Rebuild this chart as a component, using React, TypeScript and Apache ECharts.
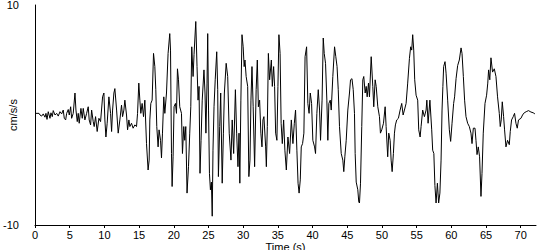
import React, { useEffect, useRef } from "react";
import * as echarts from "echarts";

const times: number[] = [
  0, 0.58, 0.72, 0.96, 1.19, 1.44, 1.58, 1.73, 1.91, 2.16, 2.3, 2.49, 2.63, 2.88, 3.12, 3.35, 3.6, 3.84, 4.07, 4.22,
  4.42, 4.56, 4.79, 4.94, 5.14, 5.28, 5.51, 5.76, 5.9, 6.09, 6.23, 6.37, 6.62, 6.81, 6.95, 7.19, 7.44, 7.67, 7.81, 8.01,
  8.16, 8.39, 8.53, 8.73, 8.96, 9.21, 9.45, 9.74, 9.93, 10.07, 10.22, 10.4, 10.65, 10.89, 11.04, 11.18, 11.37, 11.51, 11.76, 11.99,
  12.23, 12.47, 12.62, 12.81, 12.95, 13.19, 13.34, 13.53, 13.67, 13.91, 14.14, 14.39, 14.63, 14.78, 14.96, 15.11, 15.25, 15.44, 15.64, 15.83,
  16.07, 16.3, 16.45, 16.55, 16.69, 16.88, 17.08, 17.27, 17.41, 17.55, 17.74, 17.88, 18.09, 18.23, 18.37, 18.56, 18.71, 18.95, 19.18, 19.42,
  19.53, 19.67, 19.76, 19.9, 20.04, 20.24, 20.39, 20.53, 20.68, 20.86, 21.11, 21.25, 21.44, 21.58, 21.73, 21.91, 22.12, 22.3, 22.45, 22.59,
  22.78, 22.92, 23.17, 23.35, 23.5, 23.64, 23.78, 23.93, 24.1, 24.35, 24.5, 24.63, 24.79, 24.89, 25.01, 25.14, 25.28, 25.42, 25.54, 25.65,
  25.8, 25.97, 26.19, 26.33, 26.43, 26.62, 26.76, 26.98, 27.15, 27.29, 27.55, 27.77, 27.99, 28.24, 28.42, 28.63, 28.88, 29.06, 29.25, 29.4,
  29.52, 29.67, 29.83, 30.0, 30.14, 30.26, 30.43, 30.65, 30.82, 30.98, 31.12, 31.27, 31.44, 31.65, 31.87, 32.04, 32.19, 32.37, 32.55, 32.71,
  32.85, 32.99, 33.24, 33.34, 33.48, 33.63, 33.81, 34.06, 34.2, 34.39, 34.53, 34.68, 34.86, 35.01, 35.15, 35.32, 35.47, 35.64, 35.83, 36.01,
  36.22, 36.45, 36.69, 36.94, 37.17, 37.37, 37.55, 37.74, 37.91, 38.06, 38.23, 38.37, 38.56, 38.75, 38.92, 39.14, 39.32, 39.5, 39.67, 39.86,
  40.04, 40.29, 40.43, 40.62, 40.82, 41.01, 41.15, 41.37, 41.54, 41.68, 41.87, 42.06, 42.2, 42.35, 42.55, 42.69, 42.92, 43.17, 43.35, 43.53,
  43.7, 43.88, 44.13, 44.36, 44.5, 44.65, 44.85, 45.08, 45.32, 45.47, 45.68, 45.86, 46.04, 46.14, 46.29, 46.52, 46.66, 46.76, 46.91, 47.09,
  47.24, 47.38, 47.58, 47.73, 47.87, 48.06, 48.2, 48.45, 48.68, 48.82, 49.02, 49.17, 49.4, 49.64, 49.78, 49.97, 50.22, 50.46, 50.6, 50.83,
  50.98, 51.18, 51.32, 51.47, 51.65, 51.8, 51.94, 52.13, 52.37, 52.62, 52.85, 53.05, 53.24, 53.48, 53.71, 53.96, 54.14, 54.29, 54.43, 54.58,
  54.72, 54.92, 55.15, 55.3, 55.5, 55.64, 55.87, 56.12, 56.36, 56.47, 56.65, 56.91, 57.17, 57.31, 57.48, 57.63, 57.8, 57.99, 58.17, 58.35,
  58.52, 58.66, 58.78, 58.89, 59.09, 59.24, 59.47, 59.71, 59.9, 60.1, 60.33, 60.47, 60.68, 60.91, 61.15, 61.4, 61.54, 61.73, 61.91, 62.11,
  62.35, 62.59, 62.83, 62.98, 63.17, 63.41, 63.55, 63.7, 63.88, 64.07, 64.27, 64.42, 64.6, 64.85, 65.08, 65.25, 65.37, 65.54, 65.71, 65.94,
  66.19, 66.43, 66.66, 66.91, 67.05, 67.19, 67.34, 67.53, 67.67, 67.87, 68.1, 68.35, 68.49, 68.68, 68.92, 69.11, 69.31, 69.5, 69.68, 70.03,
  70.26, 70.5, 70.79, 71.12, 71.47, 71.8, 72.04,
];

const accel: number[] = [
  0.15, 0.15, 0, -0.1, 0.1, -0.2, 0.15, -0.4, 0.3, -0.3, 0.2, -0.15, 0.4, 0, 0.15, -0.1, 0.3, 0.1, 0.45, -0.3,
  -0.45, 0.15, 0.5, 0, 0.75, -0.3, 0.15, 2.0, 0.45, -0.6, 0.15, -0.75, 0.6, -0.3, 0.6, -0.45, 0.15, 0.75, -0.45, -0.9,
  0.45, -0.6, -1.05, -0.15, -1.5, -0.3, -0.6, 1.65, 2.0, -0.45, -2.0, -0.75, 1.65, 0.15, -1.5, 0.45, 2.0, 2.4, 0.45, -1.65,
  -0.45, 0.9, -0.15, 0.45, 1.35, 0, -1.35, -0.45, -1.05, -0.75, -1.2, -0.9, -1.05, 0.15, 2.9, 1.35, 0.15, 1.05, -0.15, 1.35,
  -2.6, -5.0, -4.1, -0.45, 1.05, 1.35, 5.6, 4.4, 2.3, -1.05, -2.9, -1.35, -2.3, -3.9, -1.65, 1.65, 0.15, 2.0, 5.6, 7.4,
  5.9, -3.5, -6.5, -3.8, 0.75, 1.05, 0.15, 4.2, 3.2, 0.75, 0.15, -3.5, -1.05, -2.3, -1.05, -7.1, -4.7, -1.65, 0.75, 6.2,
  3.5, 5.5, 8.5, 4.4, 1.35, 2.6, -5.3, -2.3, 1.35, 4.1, 2.0, -1.65, 2.9, 7.4, 0.45, -5.3, -6.8, -6.1, -9.2, -3.2,
  0.75, 3.2, 5.75, 2.3, -5.6, -1.05, 2.0, -6.2, -1.65, 2.0, 4.7, 3.5, -1.65, -4.1, -0.45, -3.5, 2.3, -1.65, -4.7, -1.65,
  -6.2, 1.35, 7.3, 6.2, 4.4, 5.0, 3.5, 2.6, -5.6, -4.1, 1.35, 4.4, 0.75, -4.7, 2.3, 5.0, 0.75, 1.35, -1.65, -2.9,
  -0.45, -0.15, -2.9, -4.7, -1.05, 5.6, 3.2, 5.0, 2.6, 4.4, 2.6, -1.65, -2.3, 2.6, 7.3, 5.6, -0.75, -2.6, -0.45, -3.2,
  -5.0, -2.0, -3.5, -0.45, -2.6, -0.75, 0.45, -3.2, -6.2, -7.1, -5.9, -2.9, -2.6, -1.65, 5.3, 6.2, 1.05, 0.15, 2.0, 1.05,
  -2.3, -2.9, -3.5, 0.15, 2.3, 0.45, -2.3, 1.35, 7.0, 5.6, 4.7, 1.35, -2.3, 1.05, 1.35, 0.45, 3.5, 6.2, 5.3, 4.4,
  2.3, -1.05, -3.5, -4.1, -5.15, -3.8, -2.3, 0.45, 2.0, 3.2, 3.3, 2.3, 0.15, -3.5, -6.1, -6.8, -7.9, -8.0, -6.2, -1.05,
  3.2, 3.5, 2.0, 2.6, 1.65, 2.9, 1.65, 5.3, 2.6, 0.75, 3.2, 2.6, 0.75, -0.15, -1.65, -1.35, -0.75, 0.75, -1.05, -3.8,
  -1.65, -2.3, -4.1, -5.15, -3.5, -1.65, -0.9, -0.45, -0.3, 0.45, 1.05, 0, 0.45, 1.05, 2.9, 5.15, 6.2, 5.9, 7.3, 5.9,
  3.2, 1.8, 1.35, -1.35, -2.0, -1.05, 0.45, -0.15, 0.45, 1.35, -0.75, 1.35, -1.35, -3.2, -3.5, -6.4, -8.0, -6.2, -8.0, -7.1,
  -4.1, 0.45, 2.6, 4.4, 4.85, 3.8, 1.35, -1.35, -2.4, -0.75, 1.05, 1.65, 3.3, 4.5, 5.0, 6.1, 5.6, 3.5, 1.35, -0.15,
  -0.75, -1.05, -1.65, -2.6, -1.2, -1.2, -2.3, -3.6, -2.9, -3.8, -7.4, -5.3, -1.65, 1.05, 1.8, 2.9, 4.1, 3.2, 5.2, 3.9,
  4.2, 3.5, 1.65, 0.15, -1.05, -0.45, 1.2, -0.15, -1.35, -2.9, -2.3, -2.7, -1.5, -0.45, -0.15, 0.15, -0.75, -1.2, -0.45, -0.3,
  0, 0.2, 0.3, 0.4, 0.27, 0.2, 0.1,
];

const xTicks: number[] = [0, 5, 10, 15, 20, 25, 30, 35, 40, 45, 50, 55, 60, 65, 70];

export default function App() {
  const ref = useRef<HTMLDivElement>(null);
  useEffect(() => {
    if (!ref.current) return;
    const chart = echarts.init(ref.current, undefined, { renderer: "svg" });
    const font = "'Liberation Sans', Arial, sans-serif";
    const data = times.map((t, i) => [t, accel[i]]);
    chart.setOption({
      animation: false,
      backgroundColor: "#ffffff",
      grid: { left: 35, right: 14, top: 5, bottom: 25, containLabel: false, outerBoundsMode: "none" },
      xAxis: {
        type: "value",
        min: 0,
        max: 72.2,
        interval: 5,
        name: "Time (s)",
        nameLocation: "middle",
        nameGap: 16,
        nameMoveOverlap: false,
        nameTextStyle: { color: "#000", fontSize: 11, fontFamily: font },
        axisLine: { show: true, onZero: false, lineStyle: { color: "#000", width: 1 } },
        axisTick: { show: true, length: 3, lineStyle: { color: "#000" }, customValues: xTicks },
        axisLabel: { color: "#000", fontSize: 11, fontFamily: font, margin: 4, customValues: xTicks },
        splitLine: { show: false },
      },
      yAxis: {
        type: "value",
        min: -10,
        max: 10,
        interval: 10,
        name: "cm/s/s",
        nameLocation: "middle",
        nameRotate: 90,
        nameGap: 17,
        nameMoveOverlap: false,
        nameTextStyle: { color: "#000", fontSize: 11, fontFamily: font },
        axisLine: { show: true, onZero: false, lineStyle: { color: "#000", width: 1 } },
        axisTick: { show: false },
        axisLabel: {
          color: "#000",
          fontSize: 11,
          fontFamily: font,
          margin: 16,
          formatter: (v: number) => (v === 0 ? "" : String(v)),
        },
        splitLine: { show: false },
      },
      series: [
        {
          type: "line",
          data,
          showSymbol: false,
          symbol: "none",
          lineStyle: { color: "#000", width: 1 },
          smooth: false,
        },
      ],
    });
    return () => chart.dispose();
  }, []);
  return (
    <div
      ref={ref}
      style={{ position: "fixed", left: 0, top: 0, width: 550, height: 250, background: "#fff" }}
    />
  );
}
